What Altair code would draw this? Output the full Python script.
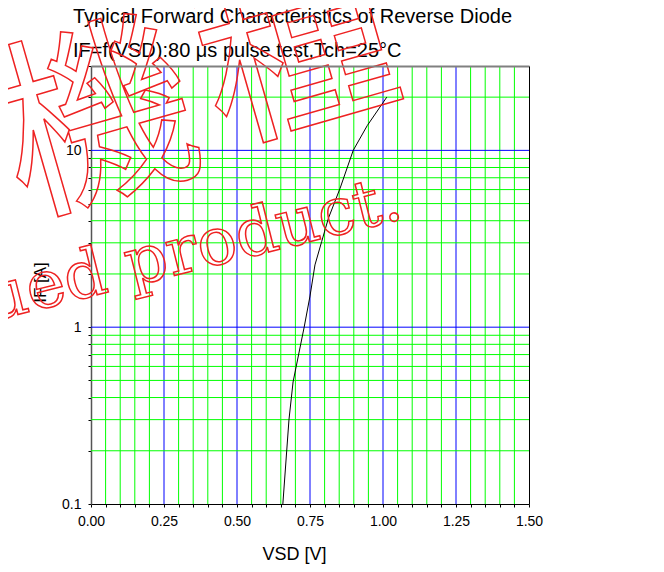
import altair as alt
import pandas as pd

# Curve (VSD in V, IF in A)
vsd = [0.657, 0.678, 0.692, 0.730, 0.750, 0.767, 0.790, 0.813, 0.853, 0.898, 0.946, 1.013]
if_a = [0.1, 0.3, 0.49, 1.0, 1.5, 2.25, 3.05, 4.13, 6.1, 10.0, 13.8, 20.0]

x_ticks = [0.0, 0.05, 0.1, 0.15, 0.2, 0.25, 0.3, 0.35, 0.4, 0.45, 0.5, 0.55, 0.6, 0.65,
           0.7, 0.75, 0.8, 0.85, 0.9, 0.95, 1.0, 1.05, 1.1, 1.15, 1.2, 1.25, 1.3, 1.35,
           1.4, 1.45, 1.5]
x_major = [0.25, 0.5, 0.75, 1.0, 1.25]
y_ticks = [0.1, 0.2, 0.3, 0.4, 0.5, 0.6, 0.7, 0.8, 0.9,
           1, 2, 3, 4, 5, 6, 7, 8, 9, 10, 20, 30]
y_major = [1, 10]

title_lines = ["Typical Forward Characteristics of Reverse Diode",
               "IF=f(VSD):80 \u03bcs pulse test,Tch=25\u00b0C"]
watermark_jp = ["\u6a5f", "\u7a2e"]
watermark_en = ["Discontinued product."]

FONT = "Liberation Sans"
GREEN = "#00ff00"
BLUE = "#0000ff"

curve = pd.DataFrame({"VSD": vsd, "IF": if_a})
gx = pd.DataFrame({"v": [v for v in x_ticks if 0 < v < 1.5]})
gx["c"] = [BLUE if v in x_major else GREEN for v in gx["v"]]
gy = pd.DataFrame({"v": [v for v in y_ticks if 0.1 < v < 30]})
gy["c"] = [BLUE if v in y_major else GREEN for v in gy["v"]]

quarter = "abs(datum.value*4 - round(datum.value*4)) < 0.000001"
decade = "abs(log(datum.value)/LN10 - round(log(datum.value)/LN10)) < 0.001"

xscale = alt.Scale(domain=[0, 1.5], nice=False, zero=False)
yscale = alt.Scale(type="log", domain=[0.1, 30], nice=False)

x_axis = alt.Axis(
    values=x_ticks,
    title="VSD [V]",
    labelExpr=f"{quarter} ? format(datum.value, '.2f') : ''",
    labelFont=FONT, labelFontSize=14, labelColor="black", labelPadding=7,
    labelOverlap=False, labelFlush=False,
    tickSize=3, tickColor="black", tickWidth=1,
    domainColor="black", domainWidth=1,
    grid=False,
    titleFont=FONT, titleFontSize=18, titleFontWeight="normal", titleColor="black",
    titleX=203, titleY=55, titleBaseline="alphabetic",
)

y_axis = alt.Axis(
    values=y_ticks,
    title="IF [A]",
    labelExpr=f"{decade} ? format(datum.value, '~g') : ''",
    labelFont=FONT, labelFontSize=14, labelColor="black", labelPadding=7,
    labelOverlap=False, labelFlush=False,
    tickSize=3, tickColor="black", tickWidth=1,
    domainColor="#555555", domainWidth=1.5,
    grid=False,
    titleFont=FONT, titleFontSize=17, titleFontWeight="normal", titleColor="black",
    titleX=-42, titleY=216,
)

grid_x = alt.Chart(gx).mark_rule(strokeWidth=1).encode(
    x=alt.X("v:Q", scale=xscale, axis=x_axis),
    color=alt.Color("c:N", scale=None),
    order=alt.Order("c:N", sort="descending"),
)
grid_y = alt.Chart(gy).mark_rule(strokeWidth=1).encode(
    y=alt.Y("v:Q", scale=yscale, axis=y_axis),
    color=alt.Color("c:N", scale=None),
)

line = alt.Chart(curve).mark_line(color="black", strokeWidth=1, clip=True).encode(
    x=alt.X("VSD:Q", scale=xscale, axis=x_axis),
    y=alt.Y("IF:Q", scale=yscale, axis=y_axis),
)

base = alt.layer(grid_x, grid_y, line)

frame = alt.Chart(curve).mark_line(opacity=0).encode(
    x=alt.X("VSD:Q", scale=xscale,
            axis=alt.Axis(orient="top", labels=False, ticks=False, grid=False,
                          domainColor="#808080", domainWidth=2, title="", zindex=1)),
    y=alt.Y("IF:Q", scale=yscale,
            axis=alt.Axis(orient="right", labels=False, ticks=False, grid=False,
                          domainColor="black", domainWidth=1, title="", zindex=1)),
)

t1 = alt.Chart(pd.DataFrame({"t": [title_lines[0]]})).mark_text(
    font=FONT, fontSize=20, align="left", baseline="alphabetic", color="black"
).encode(x=alt.value(-18), y=alt.value(-43), text="t:N")

t2 = alt.Chart(pd.DataFrame({"t": [title_lines[1]]})).mark_text(
    font=FONT, fontSize=20, align="left", baseline="alphabetic", color="black"
).encode(x=alt.value(-18), y=alt.value(-9), text="t:N")

wm_jp1 = alt.Chart(pd.DataFrame({"t": [watermark_jp[0]]})).mark_text(
    font="Noto Sans CJK JP", fontSize=195, align="center", baseline="middle",
    angle=344, fillOpacity=0, stroke="#ee2222", strokeWidth=1.5
).encode(x=alt.value(7), y=alt.value(62), text="t:N")

wm_jp2 = alt.Chart(pd.DataFrame({"t": [watermark_jp[1]]})).mark_text(
    font="Noto Sans CJK JP", fontSize=195, align="center", baseline="middle",
    angle=344, fillOpacity=0, stroke="#ee2222", strokeWidth=1.5
).encode(x=alt.value(206), y=alt.value(-10), text="t:N")

wm_en = alt.Chart(pd.DataFrame({"t": watermark_en})).mark_text(
    font="DejaVu Serif", fontSize=66, align="right", baseline="alphabetic",
    angle=346, fillOpacity=0, stroke="#ee2222", strokeWidth=1.5
).encode(x=alt.value(314), y=alt.value(152), text="t:N")

chart = alt.layer(base, frame, t1, t2, wm_jp1, wm_jp2, wm_en).resolve_axis(
    x="independent", y="independent"
).properties(
    width=438, height=438,
    autosize=alt.AutoSizeParams(type="none"),
    padding={"left": 83, "top": 58, "right": 127, "bottom": 60},
).configure_view(strokeWidth=0)

chart.save("out.html", embed_options={"renderer": "svg", "actions": False})
